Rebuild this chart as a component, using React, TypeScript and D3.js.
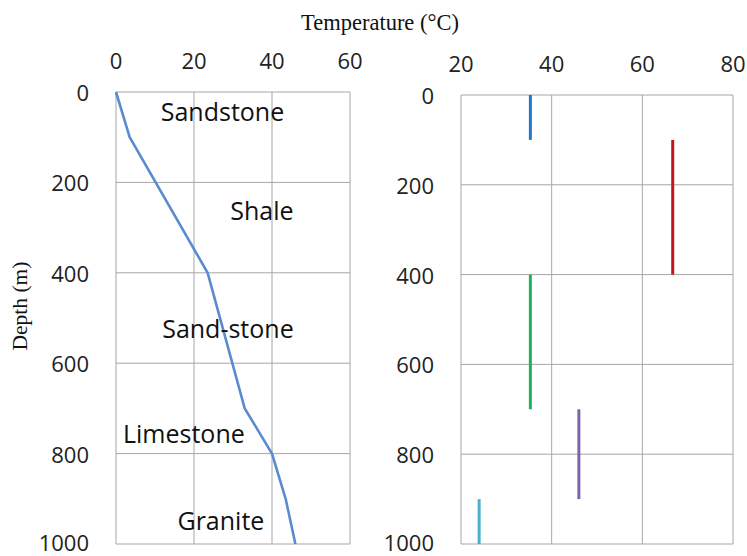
import React from "react";
import * as d3 from "d3";

// Left panel: temperature profile (temperature °C, depth m)
const profileTemp = [0, 3.5, 23.5, 33, 40, 43.5, 46];
const profileDepth = [0, 100, 400, 700, 800, 900, 1000];

// Right panel: vertical segments per layer
const segTemp = [35.3, 66.7, 35.3, 46, 24];
const segTop = [0, 100, 400, 700, 900];
const segBottom = [100, 400, 700, 900, 1000];
const segColors = ["#2377c4", "#c4141c", "#1db45c", "#8062ab", "#4bb0cc"];

// Layer annotations (temperature, depth of baseline)
const layerNames = ["Sandstone", "Shale", "Sand-stone", "Limestone", "Granite"];
const layerTemp = [27.3, 37.4, 28.7, 17.4, 26.9];
const layerDepth = [64, 283, 544, 777, 969];

const leftTicksX = [0, 20, 40, 60];
const rightTicksX = [20, 40, 60, 80];
const depthTicks = [0, 200, 400, 600, 800, 1000];

const W = 747;
const H = 556;
const SANS = "'Open Sans', 'DejaVu Sans', sans-serif";
const SERIF = "'Liberation Serif', 'Times New Roman', serif";
const GRID = "#a6a6a6";

export default function App() {
  const xL = d3.scaleLinear().domain([0, 60]).range([116, 350]);
  const yL = d3.scaleLinear().domain([0, 1000]).range([92, 544]);
  const xR = d3.scaleLinear().domain([20, 80]).range([461, 733]);
  const yR = d3.scaleLinear().domain([0, 1000]).range([95, 544]);

  const line = d3
    .line<number>()
    .x((_, i) => xL(profileTemp[i]))
    .y((_, i) => yL(profileDepth[i]));

  const panel = (
    xs: d3.ScaleLinear<number, number>,
    ys: d3.ScaleLinear<number, number>,
    xt: number[],
    key: string
  ) => {
    const [x0, x1] = xs.range();
    const [y0, y1] = ys.range();
    return (
      <g key={key}>
        {xt.map((t) => (
          <line key={"vx" + t} x1={xs(t)} x2={xs(t)} y1={y0} y2={y1} stroke={GRID} strokeWidth={1} />
        ))}
        {depthTicks.map((t) => (
          <line key={"hy" + t} x1={x0} x2={x1} y1={ys(t)} y2={ys(t)} stroke={GRID} strokeWidth={1} />
        ))}
        {xt.map((t) => (
          <text key={"tx" + t} x={xs(t)} y={y0 - 32} textAnchor="middle" dominantBaseline="central" fontFamily={SANS} fontSize={22} fill="#222">
            {t}
          </text>
        ))}
        {depthTicks.map((t) => (
          <text key={"ty" + t} x={x0 - 27} y={ys(t) - (t === 1000 ? 2 : 0)} textAnchor="end" dominantBaseline="central" fontFamily={SANS} fontSize={22} fill="#222">
            {t}
          </text>
        ))}
      </g>
    );
  };

  return (
    <div style={{ position: "absolute", left: 0, top: 0 }}>
      <svg width={W} height={H} style={{ display: "block", background: "#fff" }}>
        {panel(xL, yL, leftTicksX, "L")}
        {panel(xR, yR, rightTicksX, "R")}
        <path d={line(profileTemp) || ""} fill="none" stroke="#5a8bcf" strokeWidth={2.6} strokeLinejoin="round" />
        {segTemp.map((t, i) => (
          <line key={"s" + i} x1={xR(t)} x2={xR(t)} y1={yR(segTop[i])} y2={yR(segBottom[i])} stroke={segColors[i]} strokeWidth={3} />
        ))}
        {layerNames.map((n, i) => (
          <text key={n} x={xL(layerTemp[i])} y={yL(layerDepth[i])} textAnchor="middle" fontFamily={SANS} fontSize={25} fill="#111">
            {n}
          </text>
        ))}
        <text x={380} y={30} textAnchor="middle" fontFamily={SERIF} fontSize={22.5} fill="#111">
          Temperature (°C)
        </text>
        <text transform="translate(27,306) rotate(-90)" textAnchor="middle" fontFamily={SERIF} fontSize={21.5} fill="#111">
          Depth (m)
        </text>
      </svg>
    </div>
  );
}
